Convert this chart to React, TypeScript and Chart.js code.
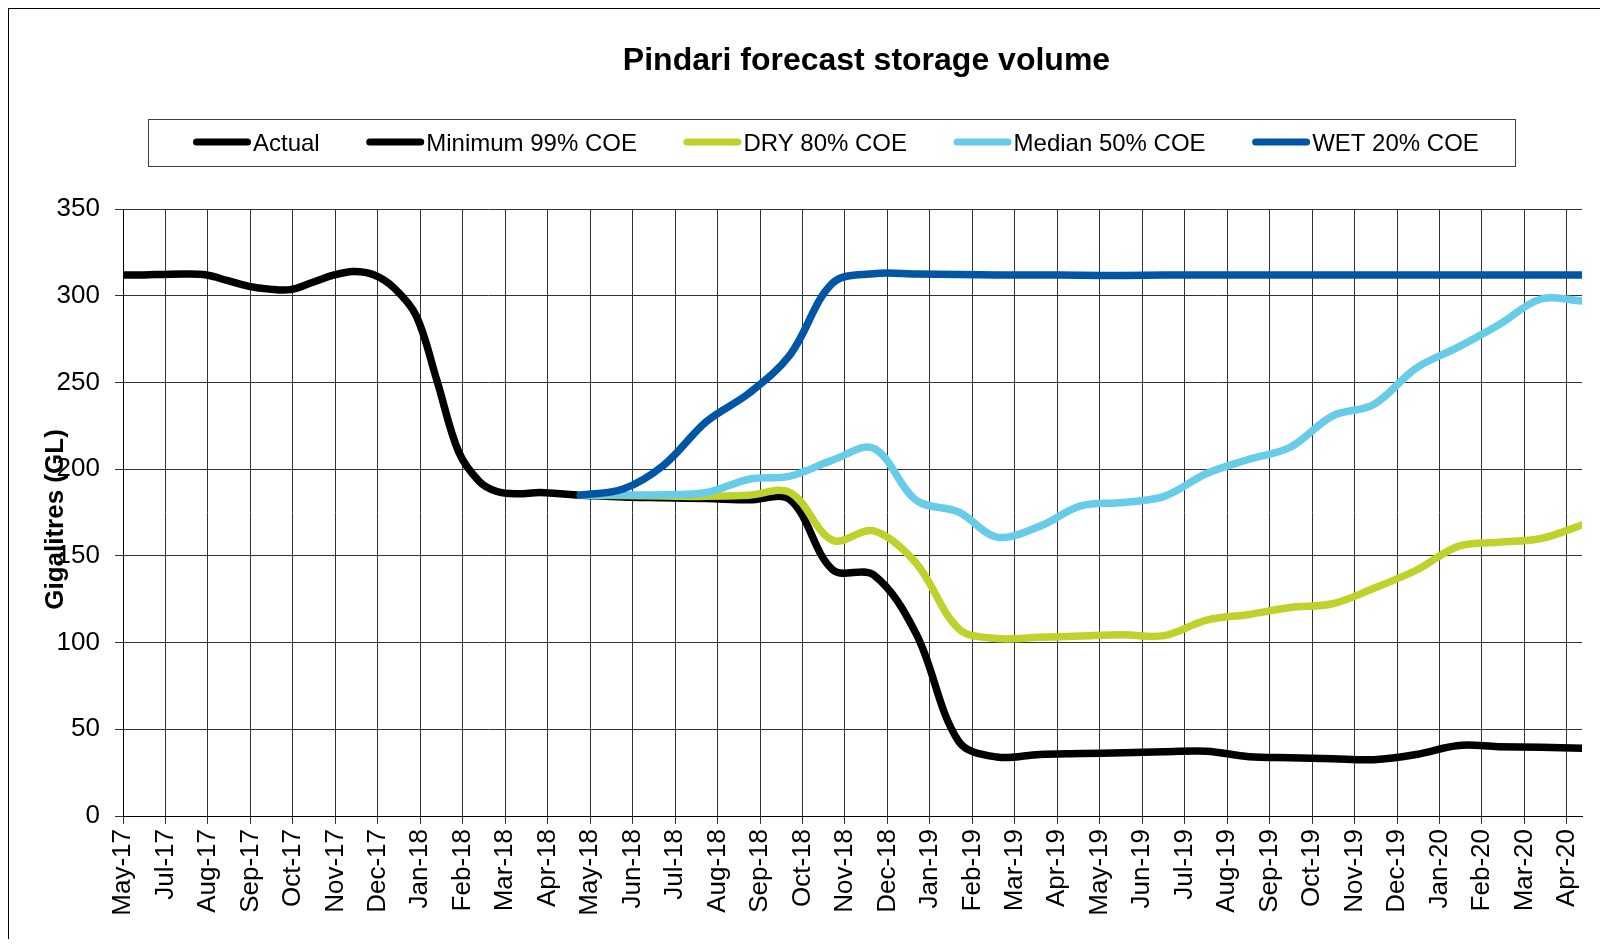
import React, { useEffect, useRef } from 'react';
import { Chart, registerables } from 'chart.js';

Chart.register(...registerables);

const FONT = '"Liberation Sans", Arial, Helvetica, sans-serif';
const CHART_TITLE = 'Pindari forecast storage volume';
const Y_TITLE = 'Gigalitres (GL)';
const AXIS_START = '2017-05-31';
const TICK_STEP_DAYS = 31;

const tickLabels = [
  'May-17', 'Jul-17', 'Aug-17', 'Sep-17', 'Oct-17', 'Nov-17', 'Dec-17',
  'Jan-18', 'Feb-18', 'Mar-18', 'Apr-18', 'May-18', 'Jun-18', 'Jul-18', 'Aug-18', 'Sep-18', 'Oct-18', 'Nov-18', 'Dec-18',
  'Jan-19', 'Feb-19', 'Mar-19', 'Apr-19', 'May-19', 'Jun-19', 'Jul-19', 'Aug-19', 'Sep-19', 'Oct-19', 'Nov-19', 'Dec-19',
  'Jan-20', 'Feb-20', 'Mar-20', 'Apr-20',
];

const yTicks = [0, 50, 100, 150, 200, 250, 300, 350];

const actualDates = [
  '2017-05-31', '2017-06-15', '2017-06-30', '2017-07-15', '2017-07-31', '2017-08-15', '2017-08-31',
  '2017-09-15', '2017-09-30', '2017-10-15', '2017-10-31', '2017-11-15', '2017-11-30', '2017-12-15',
  '2017-12-31', '2018-01-15', '2018-01-31', '2018-02-15', '2018-02-28', '2018-03-15', '2018-03-31',
  '2018-04-15', '2018-04-30',
];
const actualValues = [
  312, 312, 312.3, 312.5, 311.9, 308.8, 305.4,
  303.8, 303.5, 307.3, 311.7, 314, 312.1, 304.4,
  288.5, 251.5, 210, 193, 187.1, 185.8, 186.5,
  185.8, 185,
];

const forecastDates = [
  '2018-04-30', '2018-05-31', '2018-06-30', '2018-07-31', '2018-08-31', '2018-09-30', '2018-10-31',
  '2018-11-30', '2018-12-31', '2019-01-31', '2019-02-28', '2019-03-31', '2019-04-30', '2019-05-31',
  '2019-06-30', '2019-07-31', '2019-08-31', '2019-09-30', '2019-10-31', '2019-11-30', '2019-12-31',
  '2020-01-31', '2020-02-29', '2020-03-31', '2020-04-30',
];
const minimumValues = [
  185, 184, 183.5, 183, 182.3, 182.3, 142,
  139, 105, 43, 34, 35.5, 36, 36.5,
  37, 37.4, 34.2, 33.6, 33, 32.5, 35.5,
  40.7, 40, 39.6, 39,
];
const dryValues = [
  185, 184.8, 184.5, 184.3, 185, 186.5, 159,
  164.4, 145.7, 108, 102.3, 103, 103.8, 104.5,
  104, 112.9, 116.2, 120.2, 122.4, 131.3, 141.7,
  155.6, 157.8, 160, 167.7,
];
const medianValues = [
  185, 185.1, 185.2, 186.5, 194.2, 196, 205.2,
  212, 182, 175.3, 160.8, 167, 178.8, 180.8,
  184.3, 197.5, 205.7, 212.6, 230.7, 237.3, 258.3,
  270.5, 283.1, 298.1, 297,
];
const wetValues = [
  185, 188.5, 202.5, 227.5, 243.8, 266, 307.3,
  312.7, 312.5, 312.2, 312, 312, 311.8, 311.7,
  311.9, 312, 312, 312, 312, 312, 312,
  312, 312, 312, 312,
];

const seriesLabels = ['Actual', 'Minimum 99% COE', 'DRY 80% COE', 'Median 50% COE', 'WET 20% COE'];
const seriesColors = ['#000000', '#000000', '#BFD22B', '#66CCE8', '#0056A4'];

const DAY_MS = 86400000;
const dayOffset = (iso: string) => (Date.parse(iso) - Date.parse(AXIS_START)) / DAY_MS;
const toPoints = (dates: string[], values: number[]) =>
  dates.map((d, i) => ({ x: dayOffset(d), y: values[i] }));

const decorPlugin = {
  id: 'decor',
  afterDraw(chart: any) {
    const ctx = chart.ctx as CanvasRenderingContext2D;
    ctx.save();
    ctx.fillStyle = '#000';
    // title
    ctx.font = `bold 32px ${FONT}`;
    ctx.textAlign = 'center';
    ctx.textBaseline = 'alphabetic';
    ctx.fillText(CHART_TITLE, 857.5, 61);
    // legend box
    ctx.strokeStyle = '#404040';
    ctx.lineWidth = 1;
    ctx.strokeRect(139.5, 110.5, 1367, 47);
    // legend items
    ctx.font = `24px ${FONT}`;
    ctx.textAlign = 'left';
    let x = 184;
    chart.data.datasets.forEach((ds: any) => {
      ctx.strokeStyle = ds.borderColor;
      ctx.lineWidth = 7;
      ctx.lineCap = 'round';
      ctx.beginPath();
      ctx.moveTo(x + 3.5, 133);
      ctx.lineTo(x + 54.5, 133);
      ctx.stroke();
      ctx.fillText(ds.label, x + 60, 141.5);
      x += 60 + ctx.measureText(ds.label).width + 46.5;
    });
    // y-axis title
    ctx.translate(53.5, 510.5);
    ctx.rotate(-Math.PI / 2);
    ctx.font = `bold 26px ${FONT}`;
    ctx.textAlign = 'center';
    ctx.fillText(Y_TITLE, 0, 0);
    ctx.restore();
  },
};

export default function App() {
  const ref = useRef<HTMLCanvasElement>(null);

  useEffect(() => {
    document.body.style.overflow = 'hidden';
    const seriesData = [
      toPoints(actualDates, actualValues),
      toPoints(forecastDates, minimumValues),
      toPoints(forecastDates, dryValues),
      toPoints(forecastDates, medianValues),
      toPoints(forecastDates, wetValues),
    ];
    const axisEnd = dayOffset(forecastDates[forecastDates.length - 1]);
    const gridColor = '#333333';
    const chart = new Chart(ref.current as HTMLCanvasElement, {
      type: 'line',
      data: {
        datasets: seriesData.map((data, i) => ({
          label: seriesLabels[i],
          data,
          borderColor: seriesColors[i],
          backgroundColor: seriesColors[i],
          borderWidth: 7.5,
          pointRadius: 0,
          fill: false,
          tension: 0.35,
          borderCapStyle: 'round',
          borderJoinStyle: 'round',
          order: seriesLabels.length - 1 - i,
        })),
      },
      options: {
        animation: false,
        responsive: true,
        maintainAspectRatio: false,
        layout: { padding: { left: 0, right: 26, top: 200, bottom: 0 } },
        plugins: {
          legend: { display: false },
          title: { display: false },
          tooltip: { enabled: false },
        },
        scales: {
          x: {
            type: 'linear',
            min: 0,
            max: axisEnd,
            afterBuildTicks: (s: any) => {
              s.ticks = tickLabels.map((_, i) => ({ value: i * TICK_STEP_DAYS }));
            },
            afterFit: (s: any) => {
              s.height = 131;
            },
            grid: { color: gridColor, lineWidth: 1, tickLength: 8, tickColor: gridColor },
            border: { color: '#000', width: 1 },
            ticks: {
              autoSkip: false,
              minRotation: 90,
              maxRotation: 90,
              padding: 5,
              color: '#000',
              font: { family: FONT, size: 26 },
              callback: (_v: any, idx: number) => tickLabels[idx],
            },
          },
          y: {
            type: 'linear',
            min: yTicks[0],
            max: yTicks[yTicks.length - 1],
            afterBuildTicks: (s: any) => {
              s.ticks = yTicks.map((v) => ({ value: v }));
            },
            afterFit: (s: any) => {
              s.width = 114;
            },
            grid: { color: gridColor, lineWidth: 1, tickLength: 8, tickColor: gridColor },
            border: { color: '#000', width: 1 },
            ticks: {
              padding: 15,
              color: '#000',
              font: { family: FONT, size: 26 },
            },
          },
        },
      },
      plugins: [decorPlugin],
    } as any);
    return () => chart.destroy();
  }, []);

  return (
    <div
      style={{
        position: 'relative',
        width: 1600,
        height: 939,
        marginBottom: -8,
        boxSizing: 'border-box',
        borderTop: '1px solid #000',
        borderLeft: '1px solid #000',
        background: '#fff',
      }}
    >
      <canvas ref={ref} />
    </div>
  );
}
